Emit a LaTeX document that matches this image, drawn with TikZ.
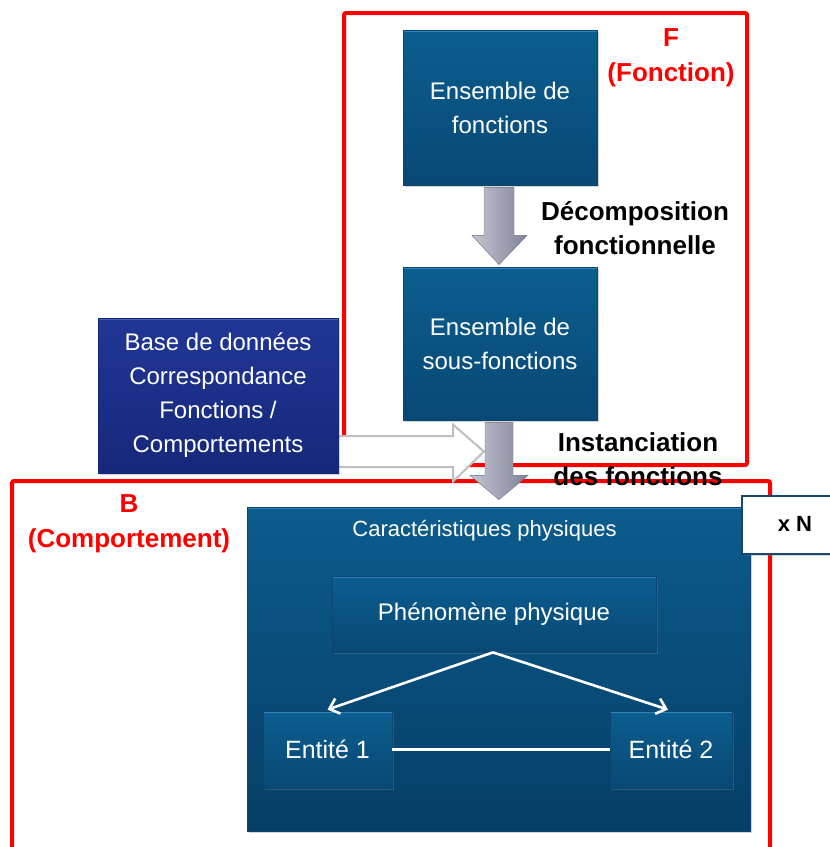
\documentclass[tikz,border=0pt]{standalone}
\usepackage{fontspec}
\setmainfont{Liberation Sans}
\usetikzlibrary{shadows,calc,arrows.meta}

\definecolor{framered}{RGB}{255,0,0}
\definecolor{boxtop}{RGB}{11,94,143}
\definecolor{boxbot}{RGB}{8,72,116}
\definecolor{boxedge}{RGB}{10,70,112}
\definecolor{boxhi}{RGB}{48,130,185}
\definecolor{bigtop}{RGB}{11,92,141}
\definecolor{bigbot}{RGB}{6,62,102}
\definecolor{dbtop}{RGB}{33,54,150}
\definecolor{dbbot}{RGB}{22,40,122}
\definecolor{dbhi}{RGB}{70,95,190}
\definecolor{arrlight}{RGB}{196,198,212}
\definecolor{arrmid}{RGB}{168,170,190}
\definecolor{arrdark}{RGB}{128,130,152}
\definecolor{hollowgray}{RGB}{190,190,190}
\definecolor{nboxedge}{RGB}{24,70,110}

\tikzset{
  frame/.style={draw=framered, line width=4pt, rounded corners=2pt},
  tophighlight/.style={path picture={\draw[#1, line width=3pt]
      (path picture bounding box.north west) -- (path picture bounding box.north east);}},
  bluebox/.style={rectangle, top color=boxtop, bottom color=boxbot, draw=boxedge, line width=0.8pt,
    text=white, align=center, inner sep=0pt, tophighlight=boxhi,
    font=\fontsize{24}{34}\selectfont,
    drop shadow={opacity=0.35, shadow xshift=2pt, shadow yshift=-2pt}},
  bigbox/.style={rectangle, top color=bigtop, bottom color=bigbot, draw=boxedge, line width=0.8pt,
    inner sep=0pt, tophighlight=boxhi,
    drop shadow={opacity=0.35, shadow xshift=2pt, shadow yshift=-2pt}},
  dbbox/.style={bluebox, top color=dbtop, bottom color=dbbot, draw=dbbot, tophighlight=dbhi},
  blockarrow/.style={left color=arrlight, middle color=arrmid, right color=arrdark,
    draw=arrdark!85!black, line width=0.4pt},
  hollowarrow/.style={fill=white, draw=hollowgray, line width=2pt, line join=miter},
  caption/.style={font=\bfseries\fontsize{26}{34}\selectfont, align=center, text=black},
  redcaption/.style={font=\bfseries\fontsize{26}{35}\selectfont, align=center, text=framered},
  link/.style={draw=white, line width=2.6pt},
}

\begin{document}
\begin{tikzpicture}[x=1pt,y=-1pt]
\useasboundingbox (0,0) rectangle (830,847);
\clip (0,0) rectangle (830,847);

% function frame and behaviour frame
\draw[frame] (344,13) rectangle (747,465);
\draw[frame] (12,860) -- (12,481) -- (770,481) -- (770,860);

% main blocks
\node[bluebox, minimum width=194pt, minimum height=155pt] (fset) at (500,107.5) {Ensemble de\\fonctions};
\node[bluebox, minimum width=194pt, minimum height=153pt] (subset) at (500,343.5) {Ensemble de\\sous-fonctions};

% hollow arrow from the database into the instanciation step
\coordinate (hstart) at (330,451.5);
\draw[hollowarrow] ($(hstart)+(0,-15.5)$) -- ($(hstart)+(123,-15.5)$) -- ($(hstart)+(123,-27)$)
  -- ($(hstart)+(154,0)$) -- ($(hstart)+(123,30)$) -- ($(hstart)+(123,15.5)$) -- ($(hstart)+(0,15.5)$);

\node[dbbox, minimum width=240pt, minimum height=155pt] (db) at (218,395.5) {Base de données\\Correspondance\\Fonctions /\\Comportements};

% behaviour block
\node[bigbox, minimum width=503pt, minimum height=324pt] (charac) at (498.5,669) {};
\node[text=white, font=\fontsize{22}{28}\selectfont, anchor=base] (charactitle) at (484.5,536) {Caractéristiques physiques};

\node[bluebox, minimum width=324pt, minimum height=76pt] (pheno) at (494,614) {Phénomène physique};
\node[bluebox, minimum width=129pt, minimum height=77pt, font=\fontsize{25}{34}\selectfont] (ent1) at (327.5,749.5) {Entité 1};
\node[bluebox, minimum width=122pt, minimum height=77pt, font=\fontsize{25}{34}\selectfont] (ent2) at (671,749.5) {Entité 2};

% relations inside the behaviour block
\coordinate (phsrc) at ($(pheno.south)+(-1,0)$);
\draw[link, -{Straight Barb[length=9pt,width=16pt]}] (phsrc) -- ($(ent1.north)+(0,-1)$);
\draw[link, -{Straight Barb[length=9pt,width=16pt]}] (phsrc) -- ($(ent2.north)+(-3,-1)$);
\draw[link] (ent1.east) -- (ent2.west);

% block arrows between the function levels
\path[blockarrow] ($(fset.south)+(-16,2)$) -- ($(fset.south)+(14,2)$) -- ($(fset.south)+(14,50)$)
  -- ($(fset.south)+(27,50)$) -- ($(subset.north)+(-1,-2)$) -- ($(fset.south)+(-28,50)$)
  -- ($(fset.south)+(-16,50)$) -- cycle;
\path[blockarrow] ($(subset.south)+(-15,2)$) -- ($(subset.south)+(13,2)$) -- ($(subset.south)+(13,55)$)
  -- ($(subset.south)+(28,55)$) -- ($(charac.north)+(0.5,-7)$) -- ($(subset.south)+(-30,55)$)
  -- ($(subset.south)+(-15,55)$) -- cycle;

% step captions
\node[caption] (decomp) at (635,228) {Décomposition\\fonctionnelle};
\node[caption] (instan) at (638,459) {Instanciation\\des fonctions};

% frame labels
\node[redcaption] (flabel) at (671,58) {F\\(Fonction)};
\node[redcaption] (blabel) at (129,524) {B\\(Comportement)};

% multiplicity tag
\node[rectangle, fill=white, draw=nboxedge, line width=2pt, minimum width=110pt, minimum height=58pt,
  anchor=north west, drop shadow={opacity=0.3, shadow xshift=2pt, shadow yshift=-2pt}] (mult) at (741,495) {};
\node[font=\bfseries\fontsize{22}{26}\selectfont] (multtext) at (795,524) {x N};
\end{tikzpicture}
\end{document}
